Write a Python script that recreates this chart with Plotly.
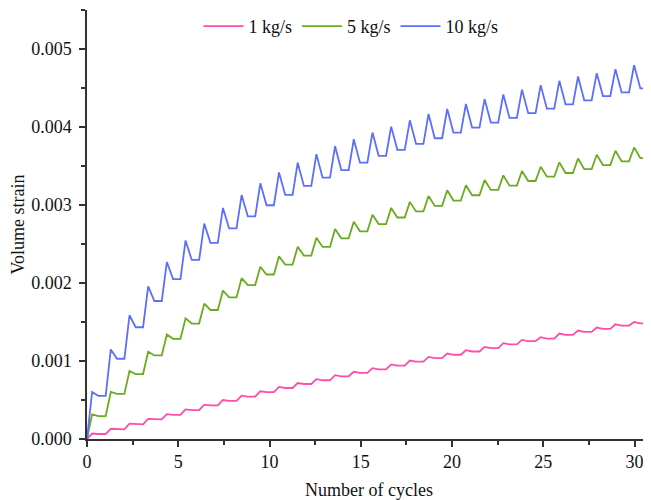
import plotly.graph_objects as go

# ---- data (one value per loading cycle, 30 cycles) ----
cycles = list(range(1, 31))
cycle_length = 1.024          # x-length of one loading cycle on the axis
peak_phase = 0.28             # position of the peak inside a cycle
trough_phase = 0.62           # position where the unloading drop ends

series_names = ["1 kg/s", "5 kg/s", "10 kg/s"]

pink_peak = [0.000070, 0.000131, 0.000196, 0.000259, 0.000319, 0.000380, 0.000440, 0.000500,
             0.000556, 0.000612, 0.000667, 0.000718, 0.000767, 0.000818, 0.000862, 0.000908,
             0.000956, 0.001006, 0.001053, 0.001096, 0.001138, 0.001181, 0.001228, 0.001270,
             0.001305, 0.001352, 0.001391, 0.001429, 0.001471, 0.001500]
pink_trough = [0.000064, 0.000124, 0.000188, 0.000251, 0.000310, 0.000370, 0.000430, 0.000489,
               0.000544, 0.000600, 0.000654, 0.000705, 0.000753, 0.000804, 0.000848, 0.000893,
               0.000940, 0.000991, 0.001037, 0.001080, 0.001122, 0.001165, 0.001212, 0.001254,
               0.001288, 0.001335, 0.001374, 0.001412, 0.001454, 0.001483]

green_peak = [0.000315, 0.000603, 0.000871, 0.001119, 0.001339, 0.001547, 0.001735, 0.001904,
              0.002062, 0.002207, 0.002343, 0.002466, 0.002580, 0.002691, 0.002785, 0.002874,
              0.002963, 0.003040, 0.003116, 0.003189, 0.003253, 0.003320, 0.003380, 0.003436,
              0.003491, 0.003546, 0.003597, 0.003644, 0.003695, 0.003737]
green_trough = [0.000293, 0.000578, 0.000833, 0.001071, 0.001284, 0.001480, 0.001654, 0.001815,
                0.001973, 0.002109, 0.002236, 0.002351, 0.002462, 0.002573, 0.002662, 0.002755,
                0.002840, 0.002917, 0.002989, 0.003057, 0.003125, 0.003193, 0.003248, 0.003308,
                0.003363, 0.003410, 0.003460, 0.003512, 0.003559, 0.003601]

blue_peak = [0.000603, 0.001148, 0.001586, 0.001956, 0.002270, 0.002545, 0.002762, 0.002963,
             0.003128, 0.003278, 0.003418, 0.003542, 0.003652, 0.003754, 0.003843, 0.003929,
             0.004005, 0.004086, 0.004167, 0.004231, 0.004295, 0.004358, 0.004417, 0.004479,
             0.004537, 0.004592, 0.004647, 0.004690, 0.004741, 0.004792]
blue_trough = [0.000553, 0.001029, 0.001433, 0.001769, 0.002050, 0.002296, 0.002515, 0.002700,
               0.002853, 0.002997, 0.003129, 0.003244, 0.003350, 0.003448, 0.003542, 0.003631,
               0.003708, 0.003784, 0.003856, 0.003929, 0.003992, 0.004056, 0.004116, 0.004178,
               0.004235, 0.004290, 0.004341, 0.004397, 0.004443, 0.004494]

x_ticks = [0, 5, 10, 15, 20, 25, 30]
y_ticks = [0.000, 0.001, 0.002, 0.003, 0.004, 0.005]
y_tick_labels = ["0.000", "0.001", "0.002", "0.003", "0.004", "0.005"]

colors = ["#FF4DAE", "#6BAB1F", "#5C6EFF"]


def build_path(peaks, troughs):
    xs, ys = [0.0], [0.0]
    for i, c in enumerate(cycles):
        start = (c - 1) * cycle_length
        xs += [start + peak_phase, start + trough_phase, start + cycle_length]
        ys += [peaks[i], troughs[i], troughs[i]]
    return xs, ys


fig = go.Figure()
for name, pk, tr, col in zip(series_names,
                             [pink_peak, green_peak, blue_peak],
                             [pink_trough, green_trough, blue_trough],
                             colors):
    xs, ys = build_path(pk, tr)
    fig.add_trace(go.Scatter(x=xs, y=ys, mode="lines", name=name,
                             line=dict(color=col, width=1.8)))

font_family = "Liberation Serif, Times New Roman, serif"
axis_color = "#333333"

# the page body has an 8px margin, so the figure is sized to fit the 651x500 window
fig.update_layout(
    width=643, height=492,
    margin=dict(l=79, r=0, t=0, b=61),
    paper_bgcolor="white", plot_bgcolor="white",
    font=dict(family=font_family, size=18, color="#111111"),
    showlegend=True,
    legend=dict(orientation="h", x=0.468, xanchor="center", y=0.962, yanchor="middle",
                font=dict(family=font_family, size=18, color="#111111"),
                bgcolor="rgba(0,0,0,0)", itemwidth=40, tracegroupgap=0),
)
fig.update_xaxes(
    range=[0, 30.9], tickvals=x_ticks, showgrid=False, zeroline=False, automargin=False,
    showline=True, linecolor=axis_color, linewidth=1.5,
    ticks="outside", ticklen=6, tickwidth=1.5, tickcolor=axis_color,
    minor=dict(dtick=2.5, ticks="outside", ticklen=4, tickwidth=1.5, tickcolor=axis_color, showgrid=False),
    tickfont=dict(size=18),
    title=dict(text="Number of cycles", font=dict(size=18), standoff=12),
)
fig.update_yaxes(
    range=[0, 0.0055], tickvals=y_ticks, ticktext=y_tick_labels, showgrid=False, zeroline=False,
    automargin=False,
    showline=True, linecolor=axis_color, linewidth=1.5,
    ticks="outside", ticklen=6, tickwidth=1.5, tickcolor=axis_color,
    minor=dict(dtick=0.0005, ticks="outside", ticklen=4, tickwidth=1.5, tickcolor=axis_color, showgrid=False),
    tickfont=dict(size=18), ticklabelstandoff=4,
    title=dict(text="Volume strain", font=dict(size=18), standoff=2),
)

fig.write_html("out.html")
